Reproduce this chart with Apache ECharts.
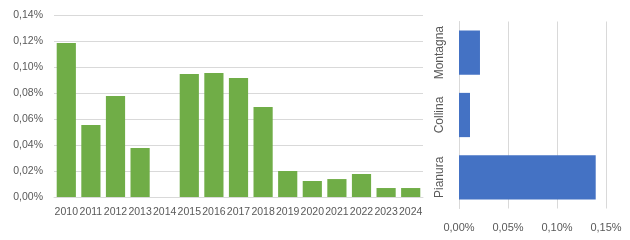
<!DOCTYPE html>
<html>
<head>
<meta charset="utf-8">
<script src="https://cdn.jsdelivr.net/npm/echarts@6/dist/echarts.min.js"></script>
<style>
html,body{margin:0;padding:0;background:#fff;}
#c{width:630px;height:240px;}
</style>
</head>
<body>
<div id="c"></div>
<script>
// Data (values in percent)
const years = ['2010','2011','2012','2013','2014','2015','2016','2017','2018','2019','2020','2021','2022','2023','2024'];
const yearValues = [0.1185, 0.0554, 0.0777, 0.0377, 0, 0.0946, 0.0954, 0.0915, 0.0692, 0.0200, 0.0123, 0.0138, 0.0177, 0.0069, 0.0069];
const zones = ['Pianura', 'Collina', 'Montagna'];
const zoneValues = [0.1395, 0.0112, 0.0214];

const fmt = v => v.toFixed(2).replace('.', ',') + '%';
const font = 'Liberation Sans';
const txt = '#595959';
const grid = '#d9d9d9';

const chart = echarts.init(document.getElementById('c'), null, {renderer: 'canvas'});
chart.setOption({
  animation: false,
  backgroundColor: '#fff',
  grid: [
    {left: 54, right: 207, top: 15, bottom: 43},
    {left: 459, right: 24, top: 21.5, bottom: 31.5}
  ],
  xAxis: [
    {
      gridIndex: 0, type: 'category', data: years,
      axisLine: {lineStyle: {color: grid}},
      axisTick: {show: false},
      axisLabel: {interval: 0, color: txt, fontFamily: font, fontSize: 10.5, margin: 10}
    },
    {
      gridIndex: 1, type: 'value', min: 0, max: 0.15, interval: 0.05,
      axisLine: {show: false},
      axisTick: {show: false},
      splitLine: {lineStyle: {color: grid}},
      axisLabel: {formatter: fmt, color: txt, fontFamily: font, fontSize: 11, margin: 14}
    }
  ],
  yAxis: [
    {
      gridIndex: 0, type: 'value', min: 0, max: 0.14, interval: 0.02,
      axisLine: {show: false},
      axisTick: {show: false},
      splitLine: {lineStyle: {color: grid}},
      axisLabel: {formatter: fmt, color: txt, fontFamily: font, fontSize: 10.5, margin: 11}
    },
    {
      gridIndex: 1, type: 'category', data: zones,
      axisLine: {lineStyle: {color: grid}},
      axisTick: {show: false},
      axisLabel: {interval: 0, rotate: 90, color: txt, fontFamily: font, fontSize: 12, margin: 13}
    }
  ],
  series: [
    {
      type: 'bar', xAxisIndex: 0, yAxisIndex: 0, data: yearValues,
      itemStyle: {color: '#70AD47'}, barCategoryGap: '22%'
    },
    {
      type: 'bar', xAxisIndex: 1, yAxisIndex: 1, data: zoneValues,
      itemStyle: {color: '#4472C4'}, barCategoryGap: '29%'
    }
  ]
});
</script>
</body>
</html>
